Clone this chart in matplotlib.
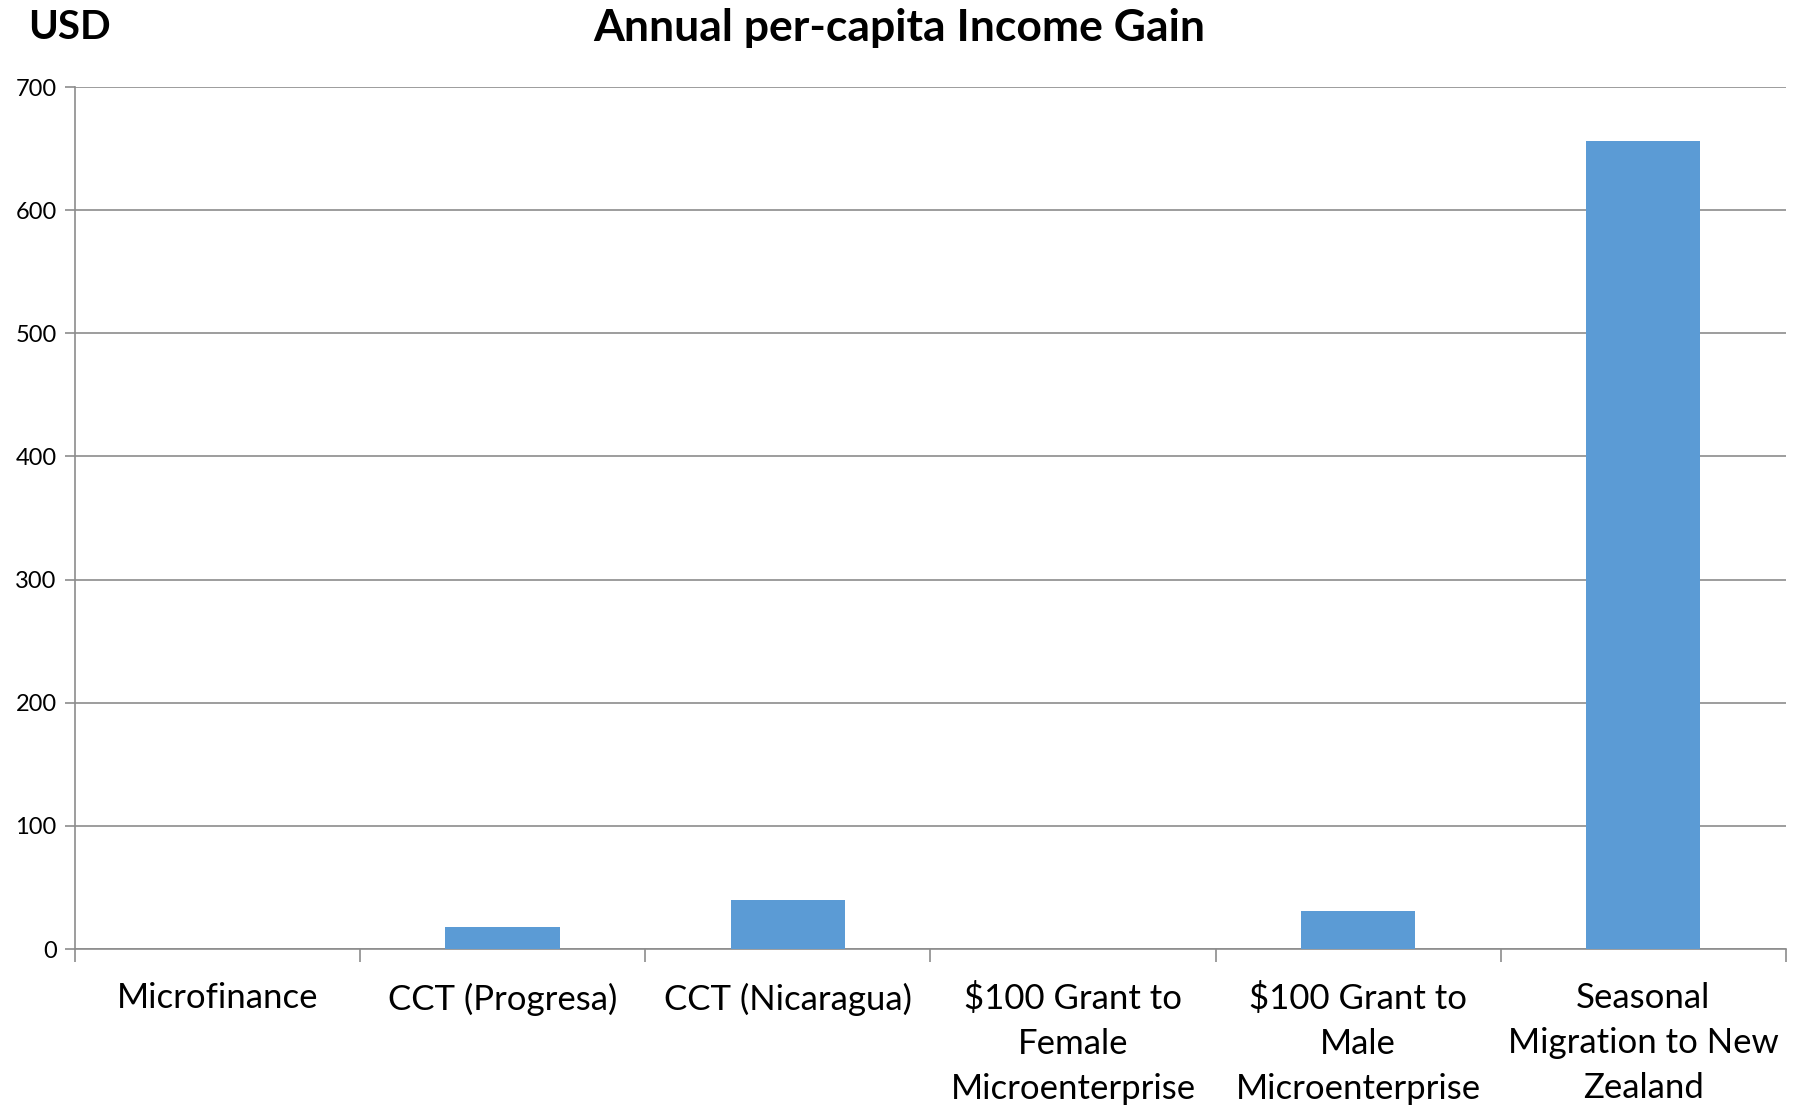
import matplotlib.pyplot as plt
import numpy as np

# values
categories = ["Microfinance", "CCT (Progresa)", "CCT (Nicaragua)",
              "$100 Grant to\nFemale\nMicroenterprise",
              "$100 Grant to\nMale\nMicroenterprise",
              "Seasonal\nMigration to New\nZealand"]
gains = [0, 17.5, 40, 0, 31, 656]
y_ticks = [0, 100, 200, 300, 400, 500, 600, 700]

plt.rcParams['font.family'] = ['Lato', 'DejaVu Sans']

fig = plt.figure(figsize=(17.99, 11.07), dpi=100)
ax = fig.add_axes([0.0415, 0.1427, 0.9513, 0.7787])

x = np.arange(len(categories))
ax.bar(x, gains, width=0.4, color='#5B9BD5', zorder=3)

ax.set_xlim(-0.5, len(categories) - 0.5)
ax.set_ylim(0, 700)
ax.set_yticks(y_ticks)
ax.yaxis.grid(True, color='#8C8C8C', linewidth=1.2, zorder=0)

# category labels at centres, tick marks between categories
ax.set_xticks(x)
ax.set_xticklabels(categories, fontsize=25, linespacing=1.5, va='top')
ax.set_xticks(np.arange(-0.5, len(categories)), minor=True)
ax.tick_params(axis='x', which='major', length=0, pad=24)
ax.tick_params(axis='x', which='minor', length=9, color='#8C8C8C', width=1.2)
ax.tick_params(axis='y', length=7, color='#8C8C8C', width=1.2, labelsize=17, pad=6)

for s in ['top', 'right']:
    ax.spines[s].set_visible(False)
for s in ['left', 'bottom']:
    ax.spines[s].set_color('#8C8C8C')
    ax.spines[s].set_linewidth(1.2)

fig.text(0.5, 0.975, "Annual per-capita Income Gain", ha='center', va='center',
         fontsize=32, fontweight='bold')
fig.text(0.0155, 0.975, "USD", ha='left', va='center', fontsize=29, fontweight='bold')

fig.savefig('out.png', dpi=100)
